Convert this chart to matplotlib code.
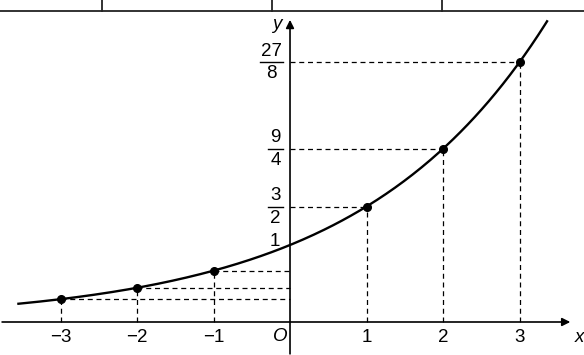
import numpy as np
import matplotlib.pyplot as plt
from matplotlib.lines import Line2D

plt.rcParams['font.family'] = ['Liberation Sans', 'DejaVu Sans']

base = 1.5
px = [-3, -2, -1, 1, 2, 3]
py = [base**v for v in px]
xticks = [-3, -2, -1, 1, 2, 3]
xlabels = ['\u22123', '\u22122', '\u22121', '1', '2', '3']
yfracs = [(1.5, '3', '2'), (2.25, '9', '4'), (3.375, '27', '8')]

fig = plt.figure(figsize=(5.84, 3.55), dpi=100)
ax = fig.add_axes([0, 0, 1, 1])
ax.set_xlim(-3.791, 3.843)
ax.set_ylim(-0.4286, 4.182)
ax.axis('off')

# table lines at top
ty = 1 - 10.5/355
fig.add_artist(Line2D([0, 1], [ty, ty], color='#222', lw=1.3, transform=fig.transFigure))
for xp in [102, 272, 442]:
    fig.add_artist(Line2D([xp/584, xp/584], [ty, 1], color='#222', lw=1.3, transform=fig.transFigure))

# axes
ax.annotate('', xy=(3.70, 0), xytext=(-3.80, 0),
            arrowprops=dict(arrowstyle='-|>', color='black', lw=1.2, mutation_scale=12))
ax.annotate('', xy=(0, 3.96), xytext=(0, -0.45),
            arrowprops=dict(arrowstyle='-|>', color='black', lw=1.2, mutation_scale=12))
ax.text(3.78, -0.2, 'x', fontsize=13.5, style='italic', ha='center', va='center')
ax.text(-0.17, 3.87, 'y', fontsize=13.5, style='italic', ha='center', va='center')
ax.text(-0.13, -0.19, 'O', fontsize=13.5, style='italic', ha='center', va='center')

# curve
xs = np.linspace(-3.55, 3.36, 300)
ax.plot(xs, base**xs, color='black', lw=1.7)

# dashed guides and points
for x, y in zip(px, py):
    ax.plot([x, x], [0, y], color='black', lw=0.9, ls=(0, (4, 3)))
    ax.plot([min(0, x), max(0, x)], [y, y], color='black', lw=0.9, ls=(0, (4, 3)))
ax.plot(px, py, 'o', color='black', ms=5.5)

# tick labels
for t, lab in zip(xticks, xlabels):
    ax.text(t, -0.2, lab, fontsize=13.5, ha='center', va='center')
ax.text(-0.2, 1.05, '1', fontsize=13.5, ha='center', va='center')

# fraction labels on y axis
for yv, num, den in yfracs:
    w = 0.1 if len(num) == 1 else 0.15
    c = -0.19 if len(num) == 1 else -0.245
    ax.plot([c - w, c + w], [yv, yv], color='black', lw=1.0)
    ax.text(c, yv + 0.03, num, fontsize=13.5, ha='center', va='bottom')
    ax.text(c, yv - 0.04, den, fontsize=13.5, ha='center', va='top')

fig.savefig('out.png', dpi=100)
